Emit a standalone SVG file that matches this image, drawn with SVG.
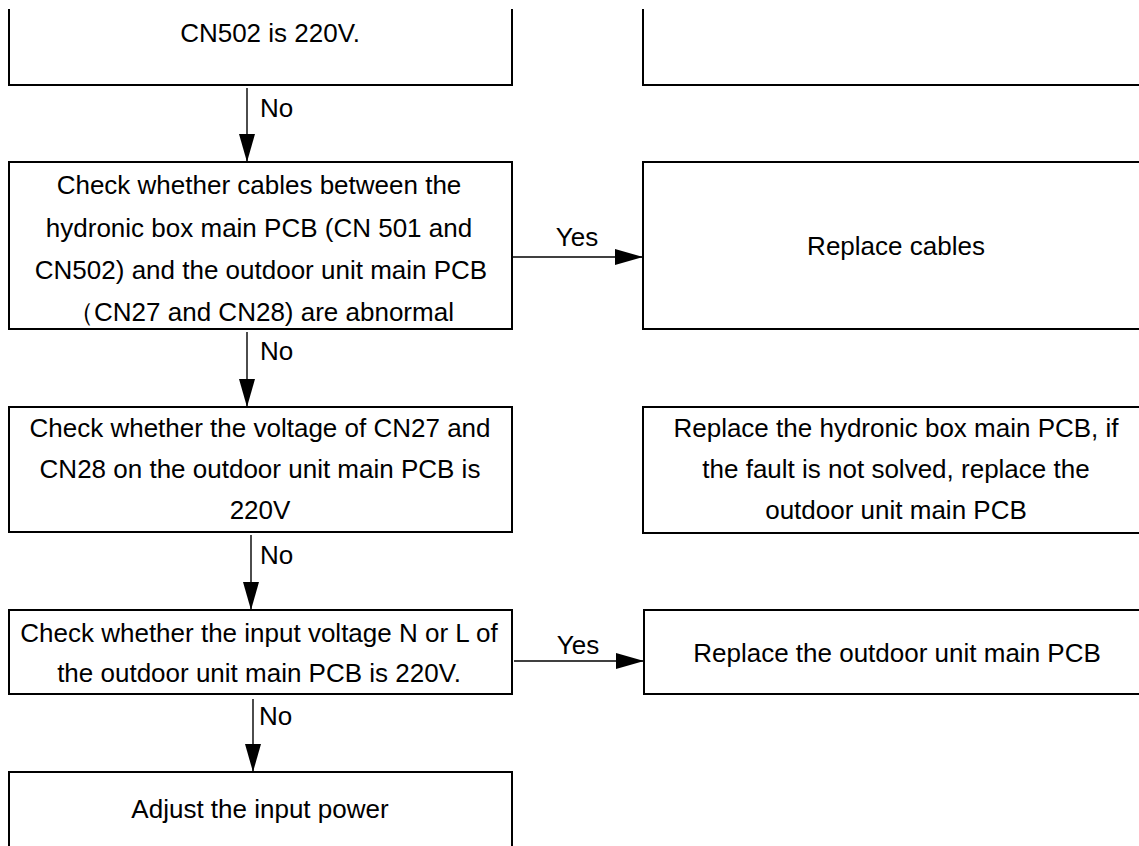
<svg xmlns="http://www.w3.org/2000/svg" width="1139" height="846" viewBox="0 0 1139 846">
<style>
.box{fill:none;stroke:#000;stroke-width:2}
.ln{fill:none;stroke:#000;stroke-width:1.4}
.t{font-family:"Liberation Sans",Arial,sans-serif;font-size:26px;fill:#000;text-anchor:middle}
.lb{font-family:"Liberation Sans",Arial,sans-serif;font-size:26px;fill:#000}
</style>
<defs>
<marker id="ah" markerUnits="userSpaceOnUse" markerWidth="28" markerHeight="16" viewBox="0 0 28 16" refX="28" refY="8" orient="auto">
<path d="M0,0 L28,8 L0,16 Z" fill="#000"/>
</marker>
</defs>
<rect width="1139" height="846" fill="#fff"/>
<g id="n1">
<path class="box" d="M9,9 V85 H512 V9"/>
<text class="t" x="270" y="42">CN502 is 220V.</text>
</g>
<g id="n1r">
<path class="box" d="M643,9 V85 H1142"/>
</g>
<g id="n2">
<rect class="box" x="9" y="162" width="503" height="167"/>
<text class="t" x="259" y="194">Check whether cables between the</text>
<text class="t" x="259" y="237">hydronic box main PCB (CN 501 and</text>
<text class="t" x="261" y="279">CN502) and the outdoor unit main PCB</text>
<text class="t" x="261" y="321">（CN27 and CN28) are abnormal</text>
</g>
<g id="n2r">
<path class="box" d="M1142,162 H643 V329 H1142"/>
<text class="t" x="896" y="255">Replace cables</text>
</g>
<g id="n3">
<rect class="box" x="9" y="407" width="503" height="125"/>
<text class="t" x="260" y="437">Check whether the voltage of CN27 and</text>
<text class="t" x="260" y="478">CN28 on the outdoor unit main PCB is</text>
<text class="t" x="260" y="519">220V</text>
</g>
<g id="n3r">
<path class="box" d="M1142,407 H643 V533 H1142"/>
<text class="t" x="896" y="437">Replace the hydronic box main PCB, if</text>
<text class="t" x="896" y="478">the fault is not solved, replace the</text>
<text class="t" x="896" y="519">outdoor unit main PCB</text>
</g>
<g id="n4">
<rect class="box" x="9" y="610" width="503" height="84"/>
<text class="t" x="259" y="642">Check whether the input voltage N or L of</text>
<text class="t" x="259" y="682">the outdoor unit main PCB is 220V.</text>
</g>
<g id="n4r">
<path class="box" d="M1142,610 H644 V694 H1142"/>
<text class="t" x="897" y="662">Replace the outdoor unit main PCB</text>
</g>
<g id="n5">
<path class="box" d="M9,848 V772 H512 V848"/>
<text class="t" x="260" y="818">Adjust the input power</text>
</g>
<g id="connectors">
<line class="ln" x1="247" y1="88" x2="247" y2="162" marker-end="url(#ah)"/>
<text class="lb" x="260" y="117">No</text>
<line class="ln" x1="512" y1="257" x2="643" y2="257" marker-end="url(#ah)"/>
<text class="t" x="577" y="246">Yes</text>
<line class="ln" x1="247" y1="332" x2="247" y2="407" marker-end="url(#ah)"/>
<text class="lb" x="260" y="360">No</text>
<line class="ln" x1="251" y1="535" x2="251" y2="610" marker-end="url(#ah)"/>
<text class="lb" x="260" y="564">No</text>
<line class="ln" x1="514" y1="661" x2="644" y2="661" marker-end="url(#ah)"/>
<text class="t" x="578" y="654">Yes</text>
<line class="ln" x1="253" y1="699" x2="253" y2="772" marker-end="url(#ah)"/>
<text class="lb" x="259" y="725">No</text>
</g>
</svg>
